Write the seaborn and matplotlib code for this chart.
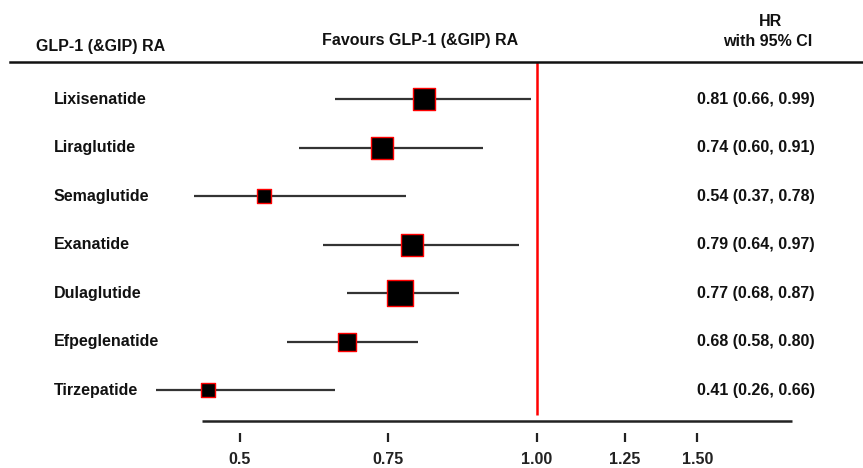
import numpy as np
import pandas as pd
import matplotlib
matplotlib.use("Agg")
import matplotlib.pyplot as plt
import seaborn as sns
from matplotlib.transforms import blended_transform_factory

# ---------------- data ----------------
drugs = ["Lixisenatide", "Liraglutide", "Semaglutide", "Exanatide",
         "Dulaglutide", "Efpeglenatide", "Tirzepatide"]
hr = [0.81, 0.74, 0.54, 0.79, 0.77, 0.68, 0.41]
ci_low = [0.66, 0.60, 0.37, 0.64, 0.68, 0.58, 0.26]
ci_high = [0.99, 0.91, 0.78, 0.97, 0.87, 0.80, 0.66]
weight = [4.84, 4.84, 1.96, 4.84, 6.76, 3.24, 1.96]
tick_values = [0.5, 0.75, 1.0, 1.25, 1.5]
tick_labels = ["0.5", "0.75", "1.00", "1.25", "1.50"]
hr_labels = ["0.81 (0.66, 0.99)", "0.74 (0.60, 0.91)", "0.54 (0.37, 0.78)",
             "0.79 (0.64, 0.97)", "0.77 (0.68, 0.87)", "0.68 (0.58, 0.80)",
             "0.41 (0.26, 0.66)"]

df = pd.DataFrame({"drug": drugs, "hr": hr, "lo": ci_low, "hi": ci_high,
                   "weight": weight})
df["row"] = np.arange(len(df))

# ---------------- style ----------------
sns.set_style("white")
plt.rcParams["font.family"] = ["Liberation Sans", "DejaVu Sans"]
plt.rcParams["font.weight"] = "bold"

# piecewise axis scale (compressed below 0.5, log-like above 1)
A = 0.589
K = 0.667


def fwd(x):
    x = np.asarray(x, dtype=float)
    low = 0.5 - A * (0.5 - x)
    high = 1 + K * np.log(np.maximum(x, 1e-9))
    return np.where(x < 0.5, low, np.where(x <= 1, x, high))


def inv(t):
    t = np.asarray(t, dtype=float)
    low = 0.5 - (0.5 - t) / A
    high = np.exp((np.minimum(t, 50) - 1) / K)
    return np.where(t < 0.5, low, np.where(t <= 1, t, high))


W, H = 863, 468
FS = 11.5
fig = plt.figure(figsize=(W / 100, H / 100), dpi=100)
ax = fig.add_axes([0, (H - 442) / H, 1, (442 - 62) / H])
ax.set_xscale("function", functions=(fwd, inv))
ax.set_xlim(-0.186, 2.28)
ax.set_ylim(7.072, -0.763)

# CI lines
ax.hlines(df["row"], df["lo"], df["hi"], color="#333333", lw=1.6, zorder=2)

# squares
sns.scatterplot(data=df, x="hr", y="row", size="weight", sizes=(101.6, 350),
                size_norm=(1.96, 6.76), marker="s", color="black",
                edgecolor="red", linewidth=1.0, legend=False, ax=ax, zorder=3)

# reference line
ax.vlines(1.0, -0.763, 6.515, color="red", lw=1.8, zorder=1)

# bottom axis line
ax.hlines(6.639, 0.3913, 1.908, color="#222222", lw=1.8, clip_on=False)

# spines
for s in ["left", "right", "bottom"]:
    ax.spines[s].set_visible(False)
ax.spines["top"].set_linewidth(1.8)
ax.spines["top"].set_color("#111111")
ax.spines["top"].set_bounds(-0.157, 2.28)

ax.set_yticks([])
ax.set_xlabel("")
ax.set_ylabel("")
ax.set_xticks(tick_values, tick_labels)
ax.tick_params(axis="x", bottom=True, direction="in", length=6.5, width=1.6,
               pad=7, labelsize=FS, colors="#222222")
for lbl in ax.get_xticklabels():
    lbl.set_fontweight("bold")

tr = blended_transform_factory(ax.transAxes, ax.transData)
for i, (name, lab) in enumerate(zip(drugs, hr_labels)):
    ax.text(54 / W, i, name, transform=tr, ha="left", va="center",
            fontsize=FS, fontweight="bold", color="#111111")
    ax.text(697 / W, i, lab, transform=tr, ha="left", va="center",
            fontsize=FS, fontweight="bold", color="#111111")

fig.text(101 / W, 1 - 46 / H, "GLP-1 (&GIP) RA", ha="center", va="center",
         fontsize=FS, fontweight="bold", color="#111111")
fig.text(420 / W, 1 - 40 / H, "Favours GLP-1 (&GIP) RA", ha="center",
         va="center", fontsize=FS, fontweight="bold", color="#111111")
fig.text(770 / W, 1 - 22 / H, "HR", ha="center", va="center",
         fontsize=FS, fontweight="bold", color="#111111")
fig.text(768 / W, 1 - 42 / H, "with 95% CI", ha="center", va="center",
         fontsize=FS, fontweight="bold", color="#111111")

fig.savefig("out.png", dpi=100, facecolor="white")
